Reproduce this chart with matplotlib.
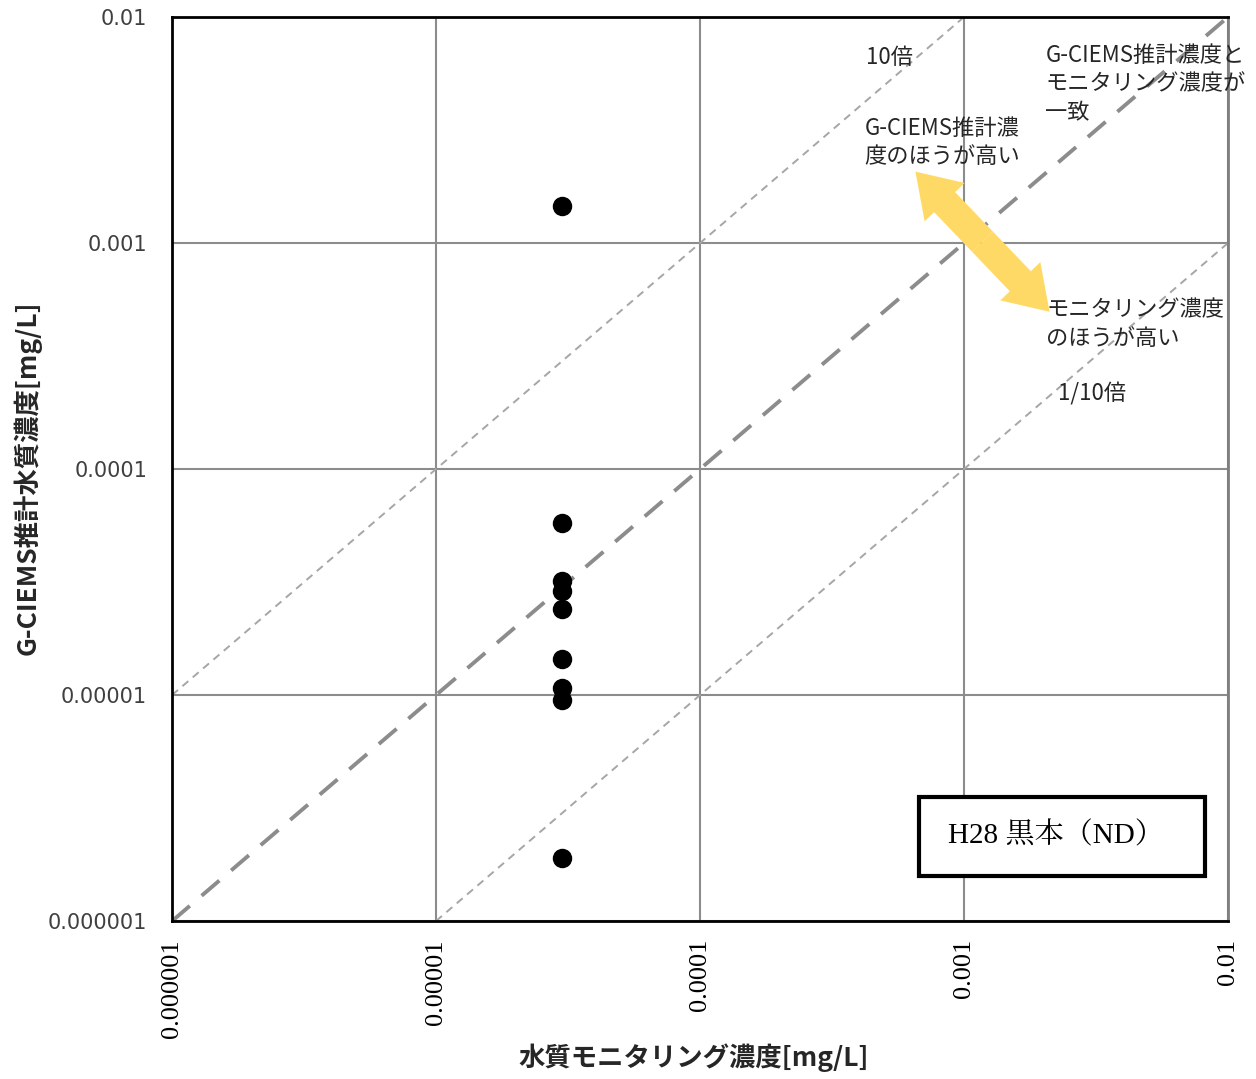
import matplotlib
matplotlib.use('Agg')
import matplotlib.pyplot as plt
from matplotlib.patches import FancyArrowPatch, Rectangle

plt.rcParams['font.family'] = ['Noto Sans CJK JP', 'DejaVu Sans']

# data
monitor = [3e-5, 3e-5, 3e-5, 3e-5, 3e-5, 3e-5, 3e-5, 3e-5, 3e-5]
gciems = [1.46e-3, 5.8e-5, 3.2e-5, 2.9e-5, 2.4e-5, 1.44e-5, 1.07e-5, 9.5e-6, 1.9e-6]
ticks = [1e-6, 1e-5, 1e-4, 1e-3, 1e-2]
tick_labels = ['0.000001', '0.00001', '0.0001', '0.001', '0.01']
ref_x = [1e-6, 1e-2]

fig = plt.figure(figsize=(12.56, 10.79), dpi=100)
ax = fig.add_axes([0.137, 0.1464, 0.8407, 0.8378])
ax.set_xscale('log')
ax.set_yscale('log')
ax.set_xlim(1e-6, 1e-2)
ax.set_ylim(1e-6, 1e-2)

ax.grid(True, which='major', color='#8c8c8c', lw=1.5)
ax.minorticks_off()
ax.set_axisbelow(True)

# reference lines
ax.plot(ref_x, ref_x, ls=(0, (6, 4)), color='#8c8c8c', lw=2.8)
ax.plot([1e-6, 1e-3], [1e-5, 1e-2], ls=(0, (4, 3)), color='#a6a6a6', lw=1.4)
ax.plot([1e-5, 1e-2], [1e-6, 1e-3], ls=(0, (4, 3)), color='#a6a6a6', lw=1.4)

ax.plot(monitor, gciems, 'o', color='black', ms=13, zorder=5)

ax.set_xticks(ticks)
ax.set_xticklabels(tick_labels, rotation=90, family='Liberation Serif', fontsize=19)
ax.set_yticks(ticks)
ax.set_yticklabels(tick_labels, family='DejaVu Sans', fontsize=15, color='#404040')
ax.tick_params(axis='x', length=0, pad=13)
ax.tick_params(axis='y', length=0, pad=18)

for s in ['left', 'bottom', 'top']:
    ax.spines[s].set_color('black')
    ax.spines[s].set_linewidth(2)
ax.spines['right'].set_color('#7f7f7f')
ax.spines['right'].set_linewidth(2)

fig.text(0.552, 0.0195, '水質モニタリング濃度[mg/L]', fontsize=19, fontweight='bold',
         ha='center', va='center', color='#262626')
fig.text(0.0215, 0.557, 'G-CIEMS推計水質濃度[mg/L]', fontsize=19, fontweight='bold',
         ha='center', va='center', rotation=90, color='#262626')

# annotations
tk = dict(fontsize=16, color='#262626', transform=ax.transAxes, va='center', ha='left',
          linespacing=1.3, clip_on=False)
ax.text(0.657, 0.955, '10倍', **tk)
ax.text(0.827, 0.926, 'G-CIEMS推計濃度と\nモニタリング濃度が\n一致', **tk)
ax.text(0.656, 0.861, 'G-CIEMS推計濃\n度のほうが高い', **tk)
ax.text(0.828, 0.660, 'モニタリング濃度\nのほうが高い', **tk)
ax.text(0.839, 0.583, '1/10倍', **tk)

# double arrow
mid = (0.7675, 0.7515)
style = 'simple,head_length=0.8,head_width=1.05,tail_width=0.55'
for end in [(0.704, 0.829), (0.831, 0.674)]:
    ax.add_patch(FancyArrowPatch(mid, end, arrowstyle=style, mutation_scale=38,
                                 color='#ffd966', lw=0, shrinkA=0, shrinkB=0,
                                 transform=ax.transAxes, zorder=4))

# label box
ax.add_patch(Rectangle((0.707, 0.050), 0.271, 0.087, transform=ax.transAxes,
                       fill=True, facecolor='white', edgecolor='black', lw=3, zorder=6))
ax.text(0.735, 0.094, 'H28 黒本（ND）', transform=ax.transAxes, fontsize=21,
        family=['Liberation Serif', 'Noto Serif CJK JP', 'Noto Sans CJK JP'],
        va='center', ha='left', zorder=7)

fig.savefig('out.png', dpi=100)
